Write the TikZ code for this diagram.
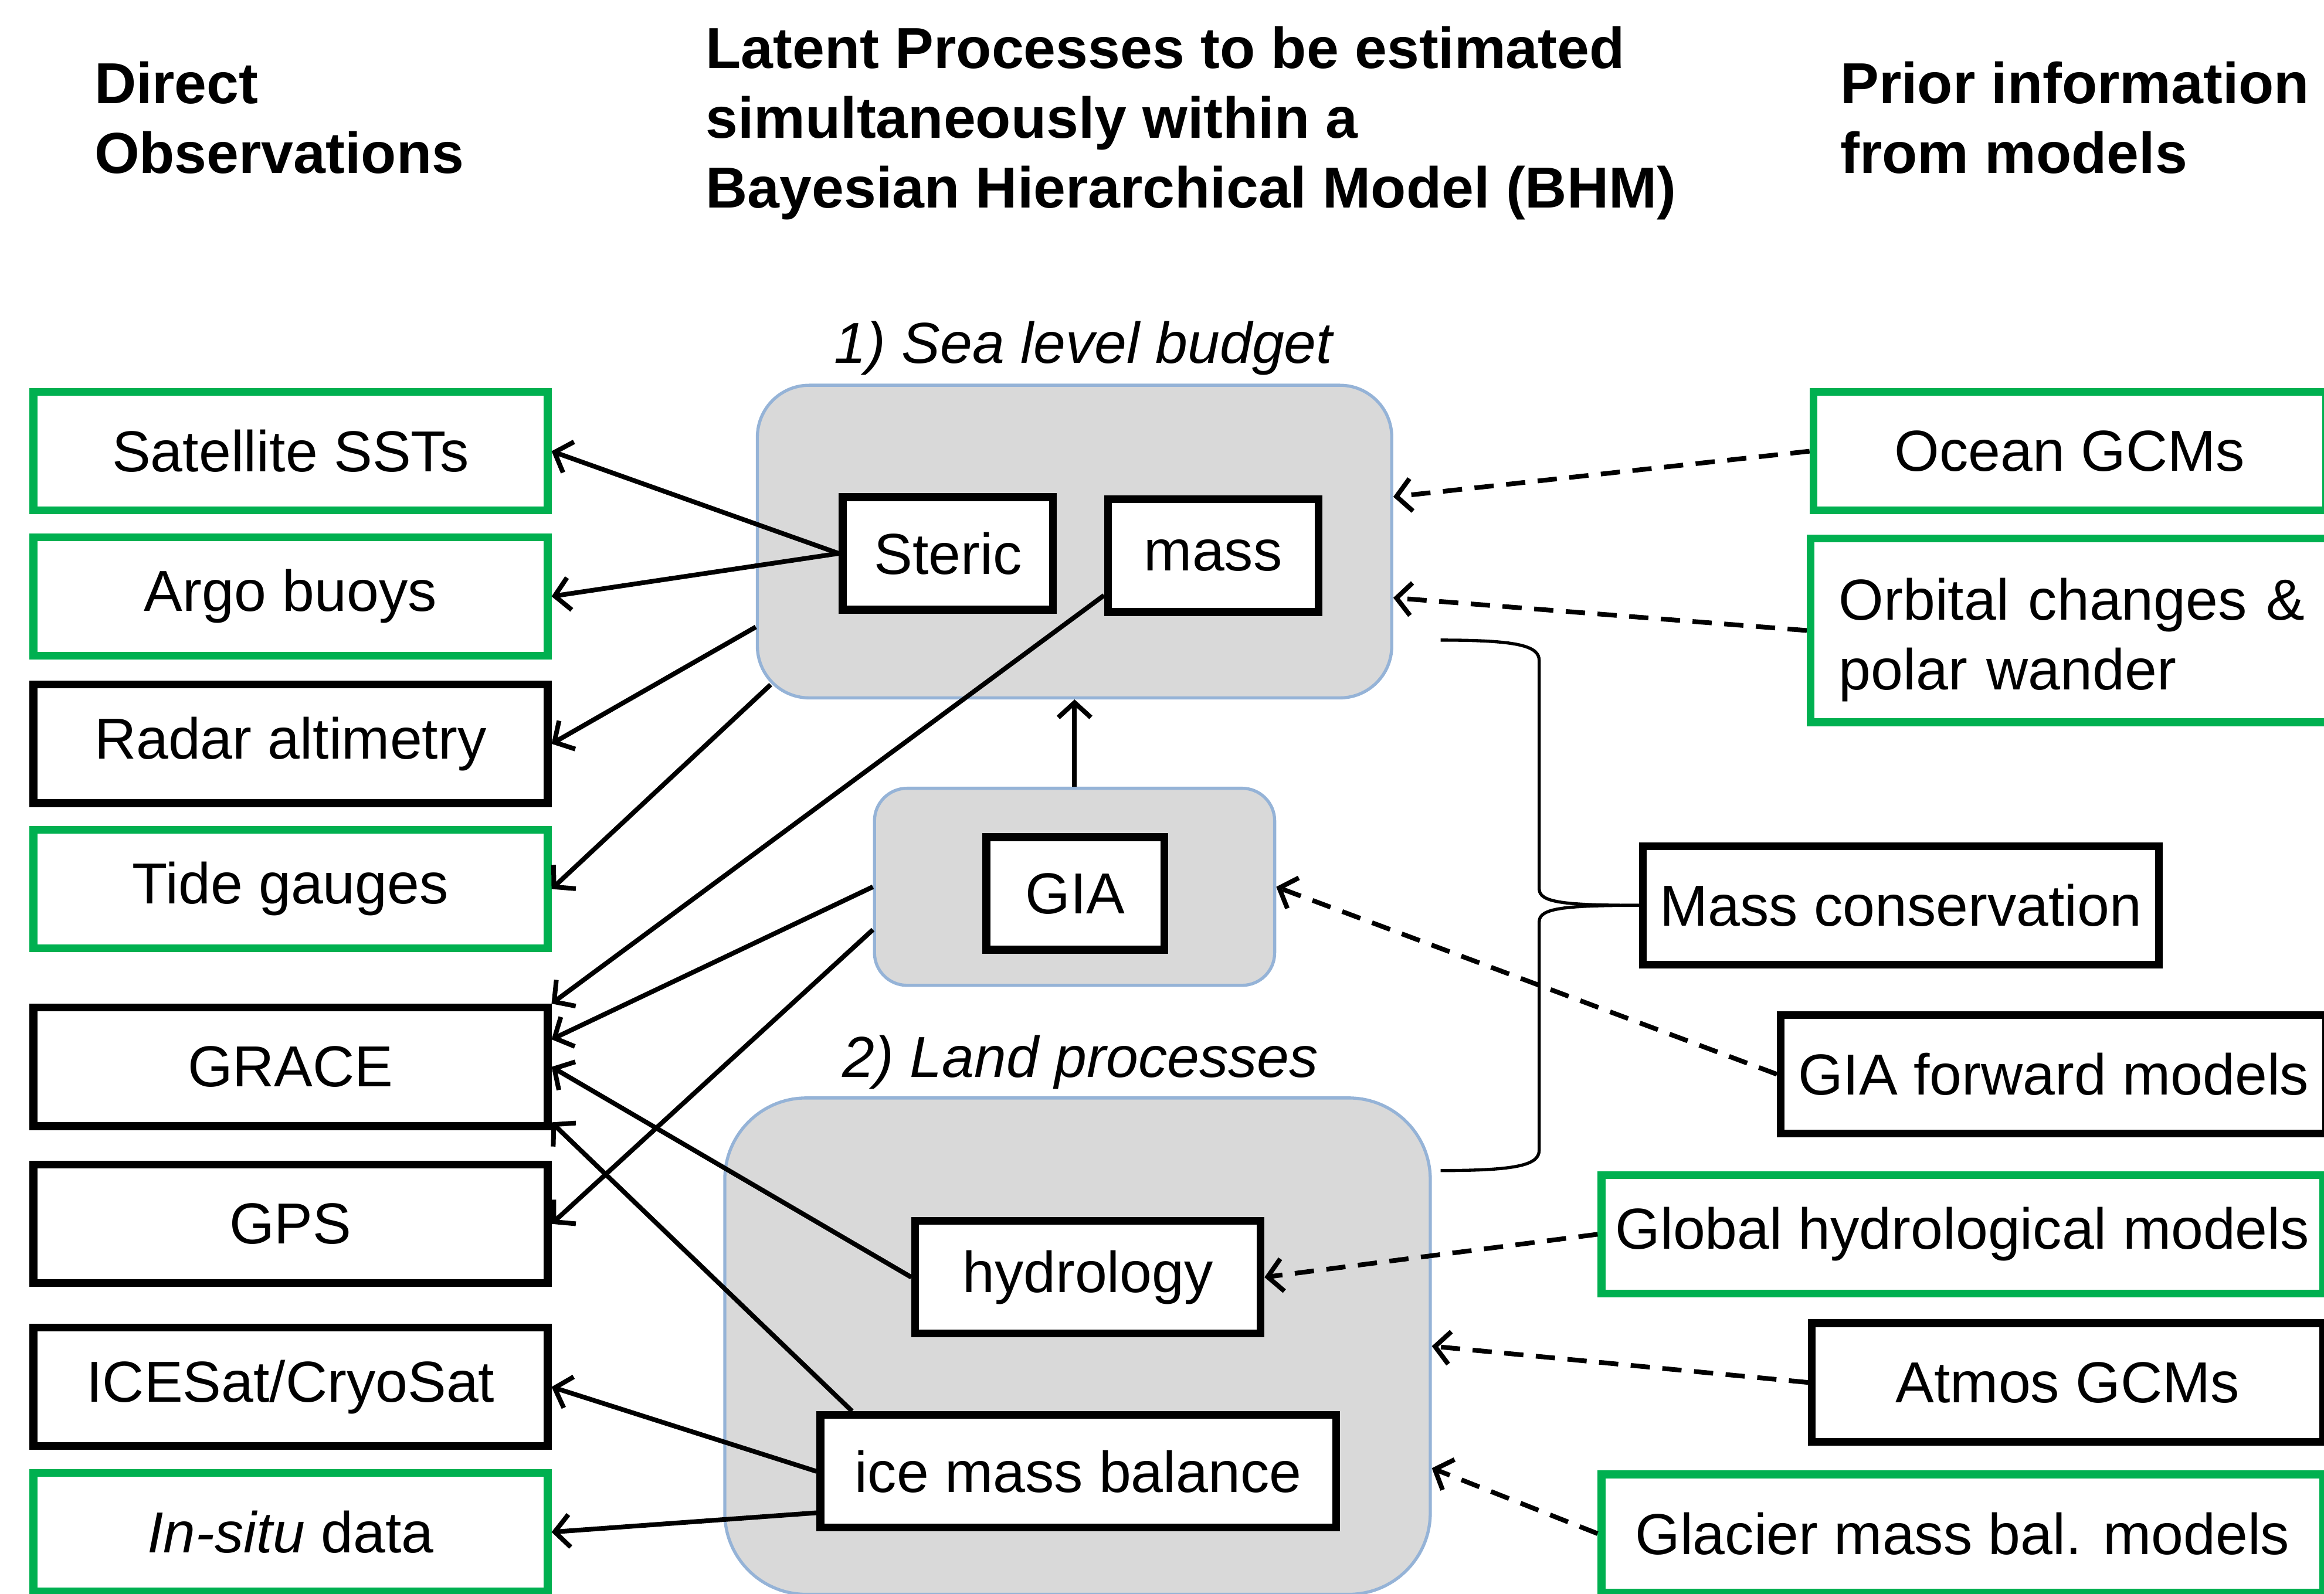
\documentclass[tikz,border=0pt]{standalone}
\usepackage{fontspec}
\setmainfont{Liberation Sans}
\usepackage{xcolor}
\usetikzlibrary{positioning,arrows.meta,calc}
\definecolor{obsgreen}{HTML}{00B050}
\definecolor{grpgray}{HTML}{D9D9D9}
\definecolor{grpblue}{HTML}{95B3D7}
\newcommand{\bodysize}{\fontsize{11.1pt}{13.4pt}\selectfont}

\begin{document}
\begin{tikzpicture}[
  font=\bodysize,
  obs/.style={draw, line width=1.5pt, fill=white, minimum width=3.47cm, minimum height=0.80cm, inner sep=0pt},
  gbox/.style={draw=obsgreen},
  mdl/.style={draw, line width=1.5pt, fill=white, minimum height=0.80cm, inner sep=0pt},
  grp/.style={draw=grpblue, line width=0.6pt, fill=grpgray},
  proc/.style={draw, line width=1.5pt, fill=white, minimum height=0.76cm, inner sep=0pt},
  head/.style={align=left, anchor=west, inner sep=0pt, font=\bodysize\bfseries},
  lbl/.style={font=\bodysize\itshape, inner sep=0pt},
  arr/.style={-{Straight Barb[length=1mm, width=2.2mm]}, line width=0.9pt},
  prior/.style={arr, dash pattern=on 3.7pt off 2.4pt},
  brc/.style={line width=0.6pt}]
\useasboundingbox (0,0) rectangle (15.68,-10.754);
\clip (0,0) rectangle (15.68,-10.754);
\node[head] (hobs) at (0.63,-0.795) {Direct\\Observations};
\node[head] (hlat) at (4.755,-0.83) {Latent Processes to be estimated\\simultaneously within a\\Bayesian Hierarchical Model (BHM)};
\node[head] (hpri) at (12.41,-0.795) {Prior information\\from models};
\node[obs, gbox] (sst)    at (1.96,-3.045) {Satellite SSTs};
\node[obs, gbox] (argo)   at (1.96,-4.025) {Argo buoys};
\node[obs]       (radar)  at (1.96,-5.02)  {Radar altimetry};
\node[obs, gbox] (tide)   at (1.96,-6.00)  {Tide gauges};
\node[obs]       (grace)  at (1.96,-7.20)  {GRACE};
\node[obs]       (gps)    at (1.96,-8.26)  {GPS};
\node[obs]       (icesat) at (1.96,-9.36)  {ICESat/CryoSat};
\node[obs, gbox] (insitu) at (1.96,-10.34) {\textit{In-situ} data};
\node[lbl] (slbl) at (7.31,-2.35) {1) Sea level budget};
\node[grp, rounded corners=0.35cm, minimum width=4.28cm, minimum height=2.11cm] (slb) at (7.25,-3.655) {};
\node[proc, minimum width=1.42cm] (steric) at (6.395,-3.735) {Steric};
\node[proc, minimum width=1.42cm] (mass)   at (8.185,-3.75)  {mass};
\node[grp, rounded corners=0.22cm, minimum width=2.70cm, minimum height=1.33cm] (giac) at (7.25,-5.985) {};
\node[proc, minimum width=1.20cm] (gia) at (7.255,-6.03) {GIA};
\node[lbl] (landl) at (7.29,-7.17) {2) Land processes};
\node[grp, rounded corners=0.55cm, minimum width=4.76cm, minimum height=3.35cm] (land) at (7.27,-9.085) {};
\node[proc, minimum width=2.33cm] (hydro) at (7.34,-8.62) {hydrology};
\node[proc, minimum width=3.48cm] (ice)   at (7.275,-9.93) {ice mass balance};
\node[mdl, gbox, minimum width=3.46cm] (ocean) at (13.965,-3.045) {Ocean GCMs};
\node[mdl, gbox, anchor=west, minimum height=1.24cm, align=left, text width=3.4cm, inner xsep=0.19cm] (orbital) at (12.19,-4.255) {\rule{0pt}{11.7pt}Orbital changes \&\\polar wander};
\node[mdl, minimum width=3.48cm] (mcons) at (12.825,-6.11) {Mass conservation};
\node[mdl, minimum width=3.68cm] (giaf) at (13.855,-7.25) {GIA forward models};
\node[mdl, gbox, minimum width=4.87cm] (ghm) at (13.24,-8.33) {Global hydrological models};
\node[mdl, minimum width=3.45cm] (atmos) at (13.95,-9.33) {Atmos GCMs};
\node[mdl, gbox, minimum width=4.87cm] (glacier) at (13.24,-10.35) {Glacier mass bal. models};
\coordinate (bt) at (9.72,-4.32);
\coordinate (bb) at (9.72,-7.90);
\draw[arr] (steric.west) -- (sst.east); \draw[arr] (steric.west) -- (argo.east);
\draw[arr] (slb.195) -- (radar.east); \draw[arr] ($(slb.south west)+(0.1,0.1)$) -- (tide.east);
\draw[arr] (mass.200) -- (grace.north east); \draw[arr] (giac.west) -- (grace.6.5);
\draw[arr] (giac.192) -- (gps.east); \draw[arr] (hydro.west) -- (grace.east);
\draw[arr] ($(ice.north west)+(0.24,0)$) -- (grace.-12.5);
\draw[arr] (ice.west) -- (icesat.east); \draw[arr] (ice.189) -- (insitu.east);
\draw[arr] (giac.north) -- (slb.south);
\draw[prior] (ocean.west) -- (slb.8); \draw[prior] (orbital.west) -- (slb.-10);
\draw[prior] (giaf.west) -- (giac.east); \draw[prior] (ghm.west) -- (hydro.east);
\draw[prior] (atmos.west) -- (land.east); \draw[prior] (glacier.west) -- (land.-19.5);
\draw[brc] (bt) .. controls (10.25,-4.32) and (10.385,-4.36) .. (10.385,-4.46) -- (10.385,-6.00) .. controls (10.385,-6.09) and (10.55,-6.11) .. (mcons.west);
\draw[brc] (mcons.west) .. controls (10.55,-6.11) and (10.385,-6.13) .. (10.385,-6.22) -- (10.385,-7.76) .. controls (10.385,-7.86) and (10.25,-7.90) .. (bb);
\end{tikzpicture}
\end{document}
